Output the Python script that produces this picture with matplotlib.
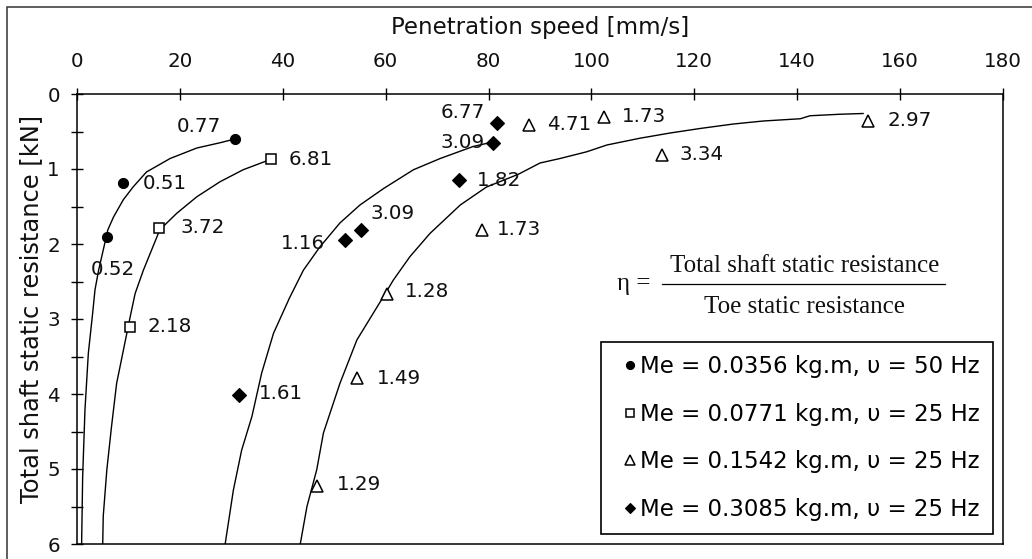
import matplotlib
matplotlib.use("Agg")
import matplotlib.pyplot as plt
from matplotlib.ticker import MultipleLocator
from matplotlib.lines import Line2D
from matplotlib.patches import Rectangle

plt.rcParams['font.family'] = ['DejaVu Sans']

# ---------------- data ----------------
# measured curves (penetration speed [mm/s], total shaft static resistance [kN])
curve1_x = [30.7, 27.8, 23.3, 18.1, 13.5, 10.9, 9.0, 7.1, 6.0, 5.1, 4.2, 3.5, 3.0, 2.2, 1.55, 1.1, 0.9]
curve1_y = [0.60, 0.65, 0.72, 0.86, 1.04, 1.24, 1.41, 1.64, 1.81, 2.08, 2.35, 2.61, 2.95, 3.46, 4.21, 5.10, 6.0]

curve2_x = [37.7, 32.3, 27.8, 23.3, 19.4, 16.1, 14.5, 12.9, 11.3, 10.4, 9.3, 7.7, 6.7, 5.8, 5.1, 5.0]
curve2_y = [0.87, 1.01, 1.17, 1.37, 1.59, 1.81, 2.08, 2.35, 2.66, 2.95, 3.32, 3.86, 4.44, 5.01, 5.63, 6.0]

curve3_x = [80.8, 77.0, 70.6, 65.4, 59.6, 55.0, 51.1, 47.2, 44.0, 41.3, 38.2, 35.9, 34.0, 32.0, 30.4, 28.8]
curve3_y = [0.64, 0.70, 0.86, 1.01, 1.26, 1.48, 1.72, 2.04, 2.35, 2.72, 3.19, 3.72, 4.30, 4.75, 5.28, 6.0]

curve4_x = [152.8, 148.3, 142.5, 140.6, 133.4, 127.6, 121.1, 115.3, 109.4, 103.0, 99.1, 93.9, 90.0,
            85.8, 79.6, 74.5, 68.6, 64.7, 61.5, 59.4, 54.4, 51.1, 47.9, 46.6, 44.7, 43.4]
curve4_y = [0.26, 0.27, 0.29, 0.33, 0.36, 0.40, 0.46, 0.52, 0.59, 0.68, 0.77, 0.86, 0.92,
            1.07, 1.24, 1.48, 1.86, 2.17, 2.48, 2.72, 3.28, 3.86, 4.52, 5.01, 5.50, 6.0]

# marked points and their eta values
s1_x = [30.7, 8.9, 5.8]
s1_y = [0.60, 1.18, 1.90]
s1_eta = ["0.77", "0.51", "0.52"]

s2_x = [37.8, 16.0, 10.3]
s2_y = [0.87, 1.78, 3.10]
s2_eta = ["6.81", "3.72", "2.18"]

s3_x = [87.9, 102.5, 153.8, 113.7, 78.7, 60.2, 54.4, 46.6]
s3_y = [0.41, 0.30, 0.36, 0.81, 1.81, 2.66, 3.79, 5.23]
s3_eta = ["4.71", "1.73", "2.97", "3.34", "1.73", "1.28", "1.49", "1.29"]

s4_x = [81.6, 80.8, 74.3, 55.2, 52.1, 31.4]
s4_y = [0.38, 0.65, 1.15, 1.81, 1.95, 4.01]
s4_eta = ["6.77", "3.09", "1.82", "3.09", "1.16", "1.61"]

legend_labels = ["Me = 0.0356 kg.m, \u03c5 = 50 Hz",
                 "Me = 0.0771 kg.m, \u03c5 = 25 Hz",
                 "Me = 0.1542 kg.m, \u03c5 = 25 Hz",
                 "Me = 0.3085 kg.m, \u03c5 = 25 Hz"]

x_ticks = [0, 20, 40, 60, 80, 100, 120, 140, 160, 180]
y_ticks = [0, 1, 2, 3, 4, 5, 6]

# label offsets in pixels (dx, dy-down, ha)
s1_off = [(-14, -13, 'right'), (20, 1.5, 'left'), (-16, 33, 'left')]
s2_off = [(17, 0, 'left'), (21, 0, 'left'), (18, 0, 'left')]
s3_off = [(18, 0, 'left'), (18, 0, 'left'), (19, 0, 'left'), (18, 0, 'left'),
          (15, 0, 'left'), (18, -2, 'left'), (20, 0, 'left'), (20, -2, 'left')]
s4_off = [(-12, -10, 'right'), (-8, 0, 'right'), (18, 0, 'left'),
          (10, -16, 'left'), (-20, 3, 'right'), (20, -1, 'left')]

# ---------------- figure ----------------
W, H = 1032, 559
fig = plt.figure(figsize=(W / 100, H / 100), dpi=100)
ax = fig.add_axes([77 / W, 1 - 544 / H, (1003 - 77) / W, (544 - 94) / H])

# outer frame (cut at right/bottom)
fig.add_artist(Rectangle((7 / W, -0.2), 1.2, 1 - 7 / H + 0.2, transform=fig.transFigure,
                         fill=False, edgecolor='#333333', linewidth=1.1))

for cx, cy in [(curve1_x, curve1_y), (curve2_x, curve2_y), (curve3_x, curve3_y), (curve4_x, curve4_y)]:
    ax.plot(cx, cy, color='black', linewidth=1.0, zorder=2)

styles = [
    dict(marker='o', markersize=7.2, markerfacecolor='black', markeredgecolor='black', markeredgewidth=0.8),
    dict(marker='s', markersize=7.0, markerfacecolor='white', markeredgecolor='black', markeredgewidth=1.1),
    dict(marker='^', markersize=9.0, markerfacecolor='white', markeredgecolor='black', markeredgewidth=1.1),
    dict(marker='D', markersize=6.8, markerfacecolor='black', markeredgecolor='black', markeredgewidth=0.8),
]
series = [(s1_x, s1_y, s1_eta, s1_off), (s2_x, s2_y, s2_eta, s2_off),
          (s3_x, s3_y, s3_eta, s3_off), (s4_x, s4_y, s4_eta, s4_off)]

handles = []
for (sx, sy, seta, soff), st, lab in zip(series, styles, legend_labels):
    h, = ax.plot(sx, sy, linestyle='none', zorder=3, label=lab, **st)
    handles.append(h)
    for x, y, t, (dx, dy, ha) in zip(sx, sy, seta, soff):
        ax.annotate(t, (x, y), xytext=(dx / 1.389, -dy / 1.389), textcoords='offset points',
                    ha=ha, va='center', fontsize=14.3, color='#111111', zorder=4)

ax.set_xlim(0, 180)
ax.set_ylim(6, 0)
ax.set_xticks(x_ticks)
ax.set_yticks(y_ticks)
ax.yaxis.set_minor_locator(MultipleLocator(0.5))

ax.xaxis.set_ticks_position('top')
ax.xaxis.set_label_position('top')
ax.tick_params(axis='both', which='both', direction='inout', length=8.5, width=1.0,
               labelsize=14.3, colors='black', labelcolor='#111111')
ax.tick_params(axis='x', pad=12)
ax.tick_params(axis='y', pad=8.0)
for sp in ax.spines.values():
    sp.set_linewidth(1.1)

ax.set_xlabel("Penetration speed [mm/s]", fontsize=16.5, labelpad=13, color='#111111')
ax.set_ylabel("Total shaft static resistance [kN]", fontsize=17.4, color='#111111')
ax.yaxis.set_label_coords(-0.037, 0.522)

leg = ax.legend(handles=handles, loc='lower right', fontsize=16.5, frameon=True, fancybox=False,
                edgecolor='black', framealpha=1, borderaxespad=0.42, labelspacing=1.08,
                borderpad=0.58, handlelength=1.4, handletextpad=-0.25, markerscale=0.8)
leg.get_frame().set_linewidth(1.2)

# equation for eta
serif = ['Liberation Serif', 'DejaVu Serif']
fig.text(805 / W, 1 - 272 / H, "Total shaft static resistance", family=serif, fontsize=18,
         ha='center', va='baseline', color='#111111')
fig.text(804 / W, 1 - 312.7 / H, "Toe static resistance", family=serif, fontsize=18,
         ha='center', va='baseline', color='#111111')
fig.add_artist(Line2D([662 / W, 945 / W], [1 - 284 / H, 1 - 284 / H], transform=fig.transFigure,
                      color='black', linewidth=0.9))
fig.text(617 / W, 1 - 290 / H, "\u03b7 =", family=serif, fontsize=18,
         ha='left', va='baseline', color='#111111')

fig.savefig("out.png", dpi=100)
